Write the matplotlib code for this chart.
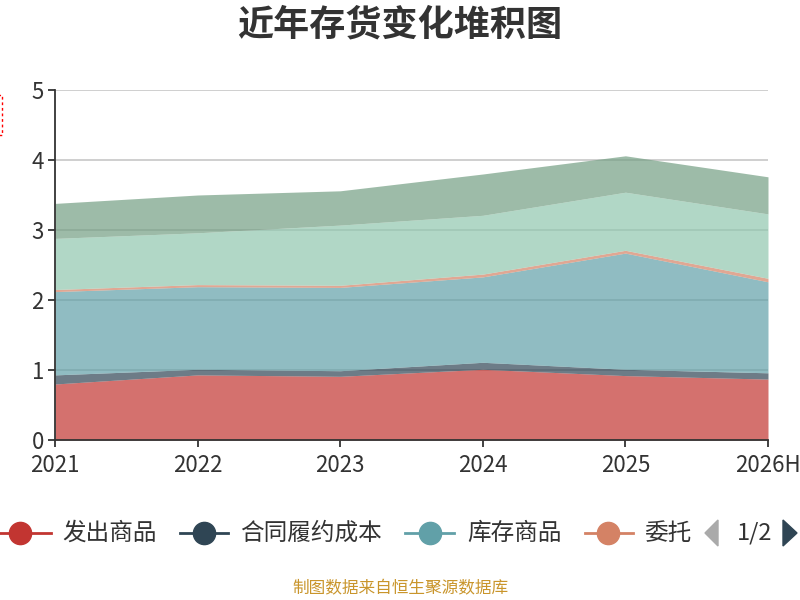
import matplotlib
matplotlib.use("Agg")
import matplotlib.pyplot as plt
from matplotlib.patches import Rectangle, Polygon
from matplotlib.lines import Line2D
import numpy as np

plt.rcParams['font.family'] = ['Noto Sans CJK SC', 'DejaVu Sans']

years = ["2021", "2022", "2023", "2024", "2025", "2026H"]
fachu = [0.80, 0.93, 0.91, 1.01, 0.92, 0.87]          # 发出商品
hetong = [0.13, 0.08, 0.08, 0.10, 0.09, 0.09]         # 合同履约成本
kucun = [1.19, 1.18, 1.19, 1.22, 1.66, 1.30]          # 库存商品
weituo = [0.03, 0.03, 0.03, 0.04, 0.04, 0.05]         # 委托加工物资
yuancailiao = [0.73, 0.74, 0.86, 0.84, 0.83, 0.92]    # 原材料
zaichanpin = [0.50, 0.54, 0.49, 0.59, 0.52, 0.53]     # 在产品

series_names = ["发出商品", "合同履约成本", "库存商品", "委托", "原材料", "在产品"]
colors = ['#c23531', '#2f4554', '#61a0a8', '#d48265', '#91c7ae', '#749f83']
yticks = [0, 1, 2, 3, 4, 5]

fig = plt.figure(figsize=(8, 6), dpi=100)
ax = fig.add_axes([55/800, 1-440/600, (768-55)/800, 350/600])

x = np.arange(len(years))
data = [fachu, hetong, kucun, weituo, yuancailiao, zaichanpin]
base = np.zeros(len(years))
for vals, c in zip(data, colors):
    top = base + np.array(vals)
    ax.fill_between(x, base, top, color=c, alpha=0.7, linewidth=0, zorder=2)
    base = top

ax.set_xlim(0, len(years)-1)
ax.set_ylim(0, 5)
ax.set_yticks(yticks)
ax.set_yticklabels([str(t) for t in yticks], fontsize=16, color='#333333')
ax.set_xticks(x)
ax.set_xticklabels(years, fontsize=16, color='#333333')
for yv in yticks[1:]:
    ax.axhline(yv, color='#cccccc', linewidth=1.3, zorder=1)
for s in ['top', 'right']:
    ax.spines[s].set_visible(False)
for s in ['left', 'bottom']:
    ax.spines[s].set_color('#333333')
    ax.spines[s].set_linewidth(1.3)
    ax.spines[s].set_zorder(3)
ax.tick_params(axis='both', direction='out', length=5, width=1.3, color='#333333')
ax.tick_params(axis='x', pad=5)
ax.tick_params(axis='y', pad=3)

# title
fig.text(0.5, 1-25/600, "近年存货变化堆积图", ha='center', va='center',
         fontsize=26, fontweight='bold', color='#333333')

# partially visible y-axis name box
fig.patches.append(Rectangle((-20/800, 1-135/600), 22/800, 40/600, transform=fig.transFigure,
                             fill=False, edgecolor='red', linestyle=(0, (2, 2)), linewidth=1))

# legend (manual, paged)
ly = 1-533/600
legend_items = [(0, 51, 20, 62), (180, 228, 204, 240), (405, 454, 430, 467), (585, 633, 608, 644)]
for (x0, x1, cx, tx), name, c in zip(legend_items, series_names[:4], colors[:4]):
    fig.add_artist(Line2D([x0/800, x1/800], [ly, ly], transform=fig.transFigure, color=c, linewidth=2))
    fig.add_artist(Line2D([cx/800], [ly], transform=fig.transFigure, marker='o', markersize=16,
                          color=c, markeredgecolor=c, linestyle='none'))
    fig.text(tx/800, ly, name, ha='left', va='center', fontsize=17, color='#333333')

fig.patches.append(Polygon([(718/800, ly+13/600), (718/800, ly-13/600), (705/800, ly)],
                           closed=True, transform=fig.transFigure, color='#aaaaaa'))
fig.text(755/800, ly, "1/2", ha='center', va='center', fontsize=17, color='#333333')
fig.patches.append(Polygon([(783/800, ly+13/600), (783/800, ly-13/600), (797/800, ly)],
                           closed=True, transform=fig.transFigure, color='#2f4554'))

fig.text(0.5, 1-589/600, "制图数据来自恒生聚源数据库", ha='center', va='center',
         fontsize=12, color='#c9952b')

fig.savefig("out.png", dpi=100)
